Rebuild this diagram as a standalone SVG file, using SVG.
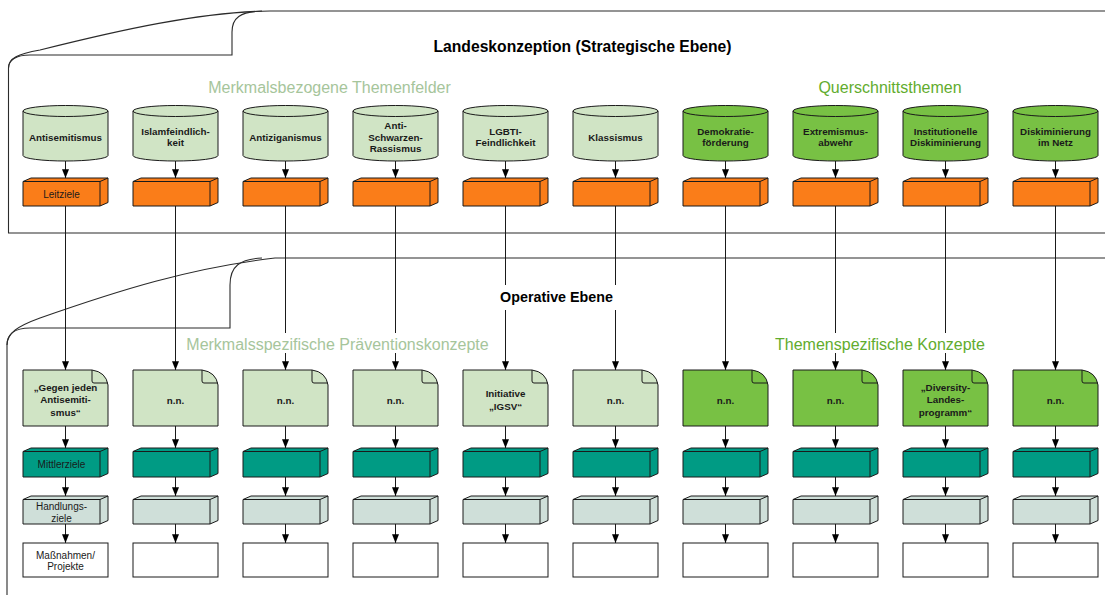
<svg xmlns="http://www.w3.org/2000/svg" xmlns:xlink="http://www.w3.org/1999/xlink" width="1105" height="595" viewBox="0 0 1105 595">
<style>
.frame{fill:none;stroke:#2b2b2b;stroke-width:1.1}
.ln{stroke:#1a1a1a;stroke-width:1;fill:none}
.edge{fill:none;stroke:#1a1a1a;stroke-width:1;stroke-linejoin:round}
.lg{fill:#d0e4c5}
.gr{fill:#78c144}
.or{fill:#fa7d19}
.tl{fill:#009b84}
.gg{fill:#cfdfd9}
.tb{font-family:"Liberation Sans",Arial,sans-serif;font-weight:bold;font-size:9.8px;fill:#1a1a1a;text-anchor:middle}
.tn{font-family:"Liberation Sans",Arial,sans-serif;font-size:10px;fill:#1a1a1a;text-anchor:middle}
.title{font-family:"Liberation Sans",Arial,sans-serif;font-weight:bold;fill:#000;text-anchor:middle}
.sub{font-family:"Liberation Sans",Arial,sans-serif;font-size:16px;text-anchor:middle}
.sublg{fill:#a6c59b}
.subgr{fill:#62ac2e}
</style>
<defs>
<marker id="ah" viewBox="0 0 10 8" refX="10" refY="4" markerWidth="9" markerHeight="7" markerUnits="userSpaceOnUse" orient="auto"><path d="M0,0 L10,4 L0,8 Z" fill="#000"/></marker>
<g id="cyl"><path d="M0,111 V155.5 A42.5,5.5 0 0 0 85,155.5 V111 A42.5,5.5 0 0 0 0,111 Z" stroke="#1a1a1a" stroke-width="1"/><path class="edge" d="M0,111 A42.5,5.5 0 0 0 85,111"/></g>
<g id="cube28"><path d="M0,3.5 L8,0 H85 V24.5 L77,28 H0 Z" stroke="#1a1a1a" stroke-width="1" stroke-linejoin="round"/><path class="edge" d="M0,3.5 H77 L85,0 M77,3.5 V28"/></g>
<g id="cube29"><path d="M0,3.5 L8,0 H85 V25.5 L77,29 H0 Z" stroke="#1a1a1a" stroke-width="1" stroke-linejoin="round"/><path class="edge" d="M0,3.5 H77 L85,0 M77,3.5 V29"/></g>
<g id="doc"><path d="M0,0 H69 Q83,2 85,15 V56 H0 Z" stroke="#1a1a1a" stroke-width="1"/><path class="edge" d="M69,0 V11 Q69,13 71,13 H85"/></g>
<rect id="plain" x="0" y="0" width="85" height="34" fill="#fff" stroke="#1a1a1a" stroke-width="1"/>
</defs>

<g id="frames">
<path class="frame" d="M1110,233 H8.5 V68 C8.5,58 18,54 40,50 C120,30 200,12 270,11 H1110"/>
<path class="frame" d="M8.5,68 C8.5,60 16,55 30,55 H232 V32 C232,18 240,11.5 262,11"/>
<path class="frame" d="M7,600 V345 C7,333 18,326 40,318 C120,290 190,268 275,258 H1110"/>
<path class="frame" d="M7,345 C7,335 14,328 30,328 H230 V285 C230,266 240,259 262,258"/>
</g>

<g id="connectors" class="ln" marker-end="url(#ah)">
<line x1="65.5" y1="161" x2="65.5" y2="178"/><line x1="65.5" y1="206" x2="65.5" y2="370"/><line x1="65.5" y1="426" x2="65.5" y2="448"/><line x1="65.5" y1="477" x2="65.5" y2="496"/><line x1="65.5" y1="524" x2="65.5" y2="543"/>
<line x1="175.5" y1="161" x2="175.5" y2="178"/><line x1="175.5" y1="206" x2="175.5" y2="370"/><line x1="175.5" y1="426" x2="175.5" y2="448"/><line x1="175.5" y1="477" x2="175.5" y2="496"/><line x1="175.5" y1="524" x2="175.5" y2="543"/>
<line x1="285.5" y1="161" x2="285.5" y2="178"/><line x1="285.5" y1="206" x2="285.5" y2="370"/><line x1="285.5" y1="426" x2="285.5" y2="448"/><line x1="285.5" y1="477" x2="285.5" y2="496"/><line x1="285.5" y1="524" x2="285.5" y2="543"/>
<line x1="395.5" y1="161" x2="395.5" y2="178"/><line x1="395.5" y1="206" x2="395.5" y2="370"/><line x1="395.5" y1="426" x2="395.5" y2="448"/><line x1="395.5" y1="477" x2="395.5" y2="496"/><line x1="395.5" y1="524" x2="395.5" y2="543"/>
<line x1="505.5" y1="161" x2="505.5" y2="178"/><line x1="505.5" y1="206" x2="505.5" y2="370"/><line x1="505.5" y1="426" x2="505.5" y2="448"/><line x1="505.5" y1="477" x2="505.5" y2="496"/><line x1="505.5" y1="524" x2="505.5" y2="543"/>
<line x1="615.5" y1="161" x2="615.5" y2="178"/><line x1="615.5" y1="206" x2="615.5" y2="370"/><line x1="615.5" y1="426" x2="615.5" y2="448"/><line x1="615.5" y1="477" x2="615.5" y2="496"/><line x1="615.5" y1="524" x2="615.5" y2="543"/>
<line x1="725.5" y1="161" x2="725.5" y2="178"/><line x1="725.5" y1="206" x2="725.5" y2="370"/><line x1="725.5" y1="426" x2="725.5" y2="448"/><line x1="725.5" y1="477" x2="725.5" y2="496"/><line x1="725.5" y1="524" x2="725.5" y2="543"/>
<line x1="835.5" y1="161" x2="835.5" y2="178"/><line x1="835.5" y1="206" x2="835.5" y2="370"/><line x1="835.5" y1="426" x2="835.5" y2="448"/><line x1="835.5" y1="477" x2="835.5" y2="496"/><line x1="835.5" y1="524" x2="835.5" y2="543"/>
<line x1="945.5" y1="161" x2="945.5" y2="178"/><line x1="945.5" y1="206" x2="945.5" y2="370"/><line x1="945.5" y1="426" x2="945.5" y2="448"/><line x1="945.5" y1="477" x2="945.5" y2="496"/><line x1="945.5" y1="524" x2="945.5" y2="543"/>
<line x1="1055.5" y1="161" x2="1055.5" y2="178"/><line x1="1055.5" y1="206" x2="1055.5" y2="370"/><line x1="1055.5" y1="426" x2="1055.5" y2="448"/><line x1="1055.5" y1="477" x2="1055.5" y2="496"/><line x1="1055.5" y1="524" x2="1055.5" y2="543"/>
</g>

<g id="labels">
<text class="title" x="582.5" y="52" font-size="15.7">Landeskonzeption (Strategische Ebene)</text>
<text class="sub sublg" x="329.5" y="92.5">Merkmalsbezogene Themenfelder</text>
<text class="sub subgr" x="890" y="92.5">Querschnittsthemen</text>
<rect x="489" y="285" width="136" height="25" fill="#fff"/>
<text class="title" x="556.5" y="301.5" font-size="14.3">Operative Ebene</text>
<rect x="184" y="333" width="307" height="20" fill="#fff"/>
<text class="sub sublg" x="337.5" y="349.5">Merkmalsspezifische Präventionskonzepte</text>
<rect x="773" y="333" width="214" height="20" fill="#fff"/>
<text class="sub subgr" x="880" y="349.5">Themenspezifische Konzepte</text>
</g>

<g id="cyl1" transform="translate(23,0)"><use href="#cyl" class="lg"/><text class="tb" x="42.5" y="140.5">Antisemitismus</text></g>
<g id="cyl2" transform="translate(133,0)"><use href="#cyl" class="lg"/><text class="tb" x="42.5" y="135">Islamfeindlich-</text><text class="tb" x="42.5" y="146">keit</text></g>
<g id="cyl3" transform="translate(243,0)"><use href="#cyl" class="lg"/><text class="tb" x="42.5" y="140.5">Antiziganismus</text></g>
<g id="cyl4" transform="translate(353,0)"><use href="#cyl" class="lg"/><text class="tb" x="42.5" y="129">Anti-</text><text class="tb" x="42.5" y="140.5">Schwarzen-</text><text class="tb" x="42.5" y="152">Rassismus</text></g>
<g id="cyl5" transform="translate(463,0)"><use href="#cyl" class="lg"/><text class="tb" x="42.5" y="135">LGBTI-</text><text class="tb" x="42.5" y="146">Feindlichkeit</text></g>
<g id="cyl6" transform="translate(573,0)"><use href="#cyl" class="lg"/><text class="tb" x="42.5" y="140.5">Klassismus</text></g>
<g id="cyl7" transform="translate(683,0)"><use href="#cyl" class="gr"/><text class="tb" x="42.5" y="135">Demokratie-</text><text class="tb" x="42.5" y="146">förderung</text></g>
<g id="cyl8" transform="translate(793,0)"><use href="#cyl" class="gr"/><text class="tb" x="42.5" y="135">Extremismus-</text><text class="tb" x="42.5" y="146">abwehr</text></g>
<g id="cyl9" transform="translate(903,0)"><use href="#cyl" class="gr"/><text class="tb" x="42.5" y="135">Institutionelle</text><text class="tb" x="42.5" y="146">Diskiminierung</text></g>
<g id="cyl10" transform="translate(1013,0)"><use href="#cyl" class="gr"/><text class="tb" x="42.5" y="135">Diskiminierung</text><text class="tb" x="42.5" y="146">im Netz</text></g>

<g id="leit1" transform="translate(23,178)"><use href="#cube28" class="or"/><text class="tn" x="38.5" y="19.6">Leitziele</text></g>
<g id="leit2" transform="translate(133,178)"><use href="#cube28" class="or"/></g>
<g id="leit3" transform="translate(243,178)"><use href="#cube28" class="or"/></g>
<g id="leit4" transform="translate(353,178)"><use href="#cube28" class="or"/></g>
<g id="leit5" transform="translate(463,178)"><use href="#cube28" class="or"/></g>
<g id="leit6" transform="translate(573,178)"><use href="#cube28" class="or"/></g>
<g id="leit7" transform="translate(683,178)"><use href="#cube28" class="or"/></g>
<g id="leit8" transform="translate(793,178)"><use href="#cube28" class="or"/></g>
<g id="leit9" transform="translate(903,178)"><use href="#cube28" class="or"/></g>
<g id="leit10" transform="translate(1013,178)"><use href="#cube28" class="or"/></g>

<g id="doc1" transform="translate(23,370)"><use href="#doc" class="lg"/><text class="tb" x="42.5" y="20.5">„Gegen jeden</text><text class="tb" x="42.5" y="33">Antisemiti-</text><text class="tb" x="42.5" y="45.5">smus“</text></g>
<g id="doc2" transform="translate(133,370)"><use href="#doc" class="lg"/><text class="tb" x="42.5" y="33.5">n.n.</text></g>
<g id="doc3" transform="translate(243,370)"><use href="#doc" class="lg"/><text class="tb" x="42.5" y="33.5">n.n.</text></g>
<g id="doc4" transform="translate(353,370)"><use href="#doc" class="lg"/><text class="tb" x="42.5" y="33.5">n.n.</text></g>
<g id="doc5" transform="translate(463,370)"><use href="#doc" class="lg"/><text class="tb" x="42.5" y="27">Initiative</text><text class="tb" x="42.5" y="39.5">„IGSV“</text></g>
<g id="doc6" transform="translate(573,370)"><use href="#doc" class="lg"/><text class="tb" x="42.5" y="33.5">n.n.</text></g>
<g id="doc7" transform="translate(683,370)"><use href="#doc" class="gr"/><text class="tb" x="42.5" y="33.5">n.n.</text></g>
<g id="doc8" transform="translate(793,370)"><use href="#doc" class="gr"/><text class="tb" x="42.5" y="33.5">n.n.</text></g>
<g id="doc9" transform="translate(903,370)"><use href="#doc" class="gr"/><text class="tb" x="42.5" y="20.5">„Diversity-</text><text class="tb" x="42.5" y="33">Landes-</text><text class="tb" x="42.5" y="45.5">programm“</text></g>
<g id="doc10" transform="translate(1013,370)"><use href="#doc" class="gr"/><text class="tb" x="42.5" y="33.5">n.n.</text></g>

<g id="mittel1" transform="translate(23,448)"><use href="#cube29" class="tl"/><text class="tn" x="38.5" y="19.6">Mittlerziele</text></g>
<g id="mittel2" transform="translate(133,448)"><use href="#cube29" class="tl"/></g>
<g id="mittel3" transform="translate(243,448)"><use href="#cube29" class="tl"/></g>
<g id="mittel4" transform="translate(353,448)"><use href="#cube29" class="tl"/></g>
<g id="mittel5" transform="translate(463,448)"><use href="#cube29" class="tl"/></g>
<g id="mittel6" transform="translate(573,448)"><use href="#cube29" class="tl"/></g>
<g id="mittel7" transform="translate(683,448)"><use href="#cube29" class="tl"/></g>
<g id="mittel8" transform="translate(793,448)"><use href="#cube29" class="tl"/></g>
<g id="mittel9" transform="translate(903,448)"><use href="#cube29" class="tl"/></g>
<g id="mittel10" transform="translate(1013,448)"><use href="#cube29" class="tl"/></g>

<g id="hand1" transform="translate(23,496)"><use href="#cube28" class="gg"/><text class="tn" x="38.5" y="14">Handlungs-</text><text class="tn" x="38.5" y="25.5">ziele</text></g>
<g id="hand2" transform="translate(133,496)"><use href="#cube28" class="gg"/></g>
<g id="hand3" transform="translate(243,496)"><use href="#cube28" class="gg"/></g>
<g id="hand4" transform="translate(353,496)"><use href="#cube28" class="gg"/></g>
<g id="hand5" transform="translate(463,496)"><use href="#cube28" class="gg"/></g>
<g id="hand6" transform="translate(573,496)"><use href="#cube28" class="gg"/></g>
<g id="hand7" transform="translate(683,496)"><use href="#cube28" class="gg"/></g>
<g id="hand8" transform="translate(793,496)"><use href="#cube28" class="gg"/></g>
<g id="hand9" transform="translate(903,496)"><use href="#cube28" class="gg"/></g>
<g id="hand10" transform="translate(1013,496)"><use href="#cube28" class="gg"/></g>

<g id="mass1" transform="translate(23,543)"><use href="#plain"/><text class="tn" x="42.5" y="15.5">Maßnahmen/</text><text class="tn" x="42.5" y="27">Projekte</text></g>
<g id="mass2" transform="translate(133,543)"><use href="#plain"/></g>
<g id="mass3" transform="translate(243,543)"><use href="#plain"/></g>
<g id="mass4" transform="translate(353,543)"><use href="#plain"/></g>
<g id="mass5" transform="translate(463,543)"><use href="#plain"/></g>
<g id="mass6" transform="translate(573,543)"><use href="#plain"/></g>
<g id="mass7" transform="translate(683,543)"><use href="#plain"/></g>
<g id="mass8" transform="translate(793,543)"><use href="#plain"/></g>
<g id="mass9" transform="translate(903,543)"><use href="#plain"/></g>
<g id="mass10" transform="translate(1013,543)"><use href="#plain"/></g>
</svg>
